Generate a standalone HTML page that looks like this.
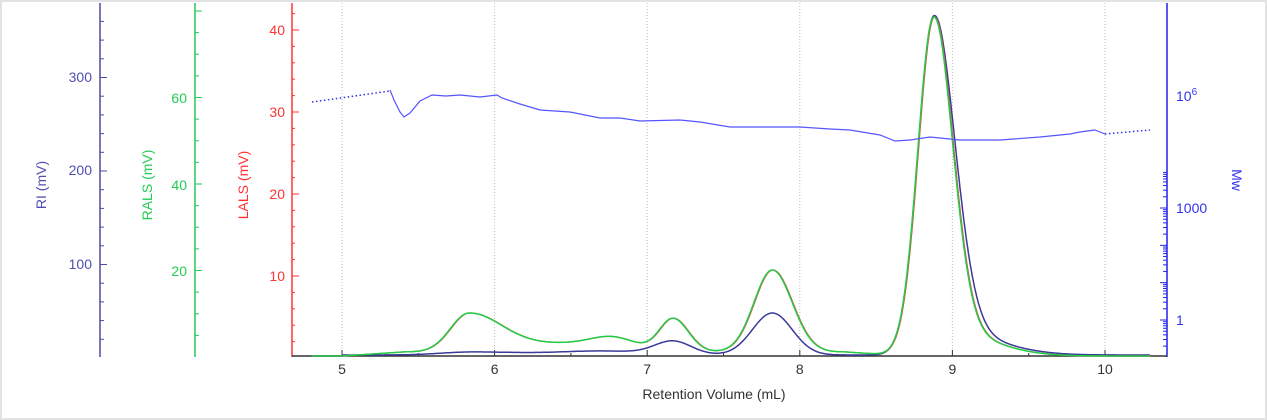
<!DOCTYPE html>
<html><head><meta charset="utf-8"><style>
body{margin:0;background:#fff}
svg{display:block;font-family:"Liberation Sans",sans-serif}
</style></head><body>
<svg id="s" width="1267" height="420" xmlns="http://www.w3.org/2000/svg">
<rect x="1" y="1" width="1265" height="418" fill="#fff" stroke="#e3e3e3" stroke-width="2"/>
<g id="grid" stroke="#bbb" stroke-dasharray="1,2" stroke-width="1"></g>
<line x1="100" y1="3" x2="100" y2="357" stroke="#4b4ba0" stroke-width="1.5"/>
<g id="riT" stroke="#4b4ba0"></g>
<g fill="#5050b0" font-size="14" text-anchor="end">
<text x="92" y="82">300</text><text x="92" y="175">200</text><text x="92" y="269">100</text></g>
<text transform="translate(46,185) rotate(-90)" fill="#5050b0" font-size="14" text-anchor="middle">RI (mV)</text>
<line x1="195" y1="3" x2="195" y2="357" stroke="#22cc55" stroke-width="1.5"/>
<g id="raT" stroke="#22cc55"></g>
<g fill="#22cc55" font-size="14" text-anchor="end">
<text x="187" y="103">60</text><text x="187" y="190">40</text><text x="187" y="276">20</text></g>
<text transform="translate(152,185) rotate(-90)" fill="#22cc55" font-size="14" text-anchor="middle">RALS (mV)</text>
<line x1="292" y1="3" x2="292" y2="357" stroke="#ff3333" stroke-width="1.5"/>
<g id="laT" stroke="#ff3333"></g>
<g fill="#ff3333" font-size="14" text-anchor="end">
<text x="285" y="35">40</text><text x="285" y="117">30</text><text x="285" y="199">20</text><text x="285" y="281">10</text></g>
<text transform="translate(248,185) rotate(-90)" fill="#ff3333" font-size="14" text-anchor="middle">LALS (mV)</text>
<line x1="1167" y1="3" x2="1167" y2="357" stroke="#2222ee" stroke-width="1.5"/>
<g id="mwT" stroke="#2222ee"></g>
<g fill="#3333ee" font-size="14">
<text x="1176" y="101">10<tspan font-size="10" dy="-6">6</tspan></text>
<text x="1176" y="213">1000</text><text x="1176" y="325">1</text></g>
<text transform="translate(1232,180) rotate(90)" fill="#3333ee" font-size="14" text-anchor="middle">Mw</text>
<line x1="292" y1="356" x2="1167" y2="356" stroke="#333" stroke-width="1.5"/>
<g id="xT" stroke="#333"></g>
<g fill="#333" font-size="14" text-anchor="middle" id="xL"></g>
<text x="714" y="399" fill="#333" font-size="14" text-anchor="middle">Retention Volume (mL)</text>
<g id="curves" fill="none"></g>
</svg>
<script>
const NS="http://www.w3.org/2000/svg";
function el(p,t,a){const e=document.createElementNS(NS,t);for(const k in a)e.setAttribute(k,a[k]);document.getElementById(p).appendChild(e);return e;}
const X=v=>342+(v-5)*152.6;
for(let v=5;v<=10;v++){el('grid','line',{x1:X(v),y1:3,x2:X(v),y2:356});el('xT','line',{x1:X(v),y1:350,x2:X(v),y2:356});const t=el('xL','text',{x:X(v),y:374});t.textContent=v;}
for(let v=4.5;v<=10.5;v+=1){if(X(v)>292&&X(v)<1167)el('xT','line',{x1:X(v),y1:353,x2:X(v),y2:356});}
for(let v=20;v<=380;v+=20){const y=358-v*0.935;if(y>3)el('riT','line',{x1:100,x2:(v%100==0?107:104),y1:y,y2:y});}
for(let v=5;v<=80;v+=5){const y=357-v*4.325;if(y>3)el('raT','line',{x1:195,x2:(v%20==0?202:199),y1:y,y2:y});}
for(let v=2;v<=42;v+=2){const y=358-v*8.2;if(y>3)el('laT','line',{x1:292,x2:(v%10==0?299:295),y1:y,y2:y});}
for(let d=-1;d<=3;d++){for(let m=1;m<10;m++){const y=320-(d+Math.log10(m))*37.33;if(y>3&&y<356)el('mwT','line',{x1:1167,x2:(m==1?1160:1163),y1:y,y2:y});}}
function ag(v,c,h,sl,sr){const s=v<c?sl:sr;return h*Math.exp(-0.5*((v-c)/s)**2);}
function base(v){if(v<5)return 0;let b=Math.min(1,(v-5)/0.4)*4;if(v>8.3)b*=Math.max(0,1-(v-8.3)/0.4);return b;}
function ls(v){return base(v)+ag(v,5.83,38,0.12,0.22)+ag(v,6.45,8,0.3,0.3)+ag(v,6.78,11,0.15,0.15)+ag(v,7.17,33,0.09,0.1)+ag(v,7.82,82,0.12,0.13)+ag(v,8.873,320,0.103,0.125)+ag(v,8.95,25,0.1,0.3);}
function ri(v){return ag(v,5.85,3,0.2,0.3)+ag(v,6.7,4,0.3,0.3)+ag(v,7.17,13,0.12,0.12)+ag(v,7.82,42,0.13,0.13)+ag(v,8.875,320,0.103,0.138)+ag(v,8.95,25,0.1,0.32)+(v>5?1:0);}
function path(f,dx){let d="";for(let v=4.8;v<=10.3;v+=0.005){d+=(d?"L":"M")+(X(v)+dx).toFixed(1)+","+(356-f(v)).toFixed(1);}return d;}
el('curves','path',{d:path(ri,0),stroke:"#3a3a99","stroke-width":1.5});
el('curves','path',{d:path(ls,0.7),stroke:"#ee4444","stroke-width":1.2});
el('curves','path',{d:path(ls,0),stroke:"#22cc44","stroke-width":1.5});
el('curves','path',{d:"M312,102L390,91",stroke:"#3333ee","stroke-dasharray":"1.5,2.5","stroke-width":1.5});
el('curves','path',{d:"M1105,134L1150,130",stroke:"#3333ee","stroke-dasharray":"1.5,2.5","stroke-width":1.5});
el('curves','path',{d:"M390,90L394,100L400,112L404,117L410,113L420,101L432,95L446,96L460,95L480,97L497,95L502,98L520,104L540,110L570,112L600,118L620,118L640,121L680,120L700,122L730,127L800,127L830,129L850,130L880,135L895,141L910,140L930,137L960,140L1000,140L1040,137L1070,134L1080,132L1095,130L1105,134",stroke:"#5555ff","stroke-width":1.2});
</script>
</body></html>
